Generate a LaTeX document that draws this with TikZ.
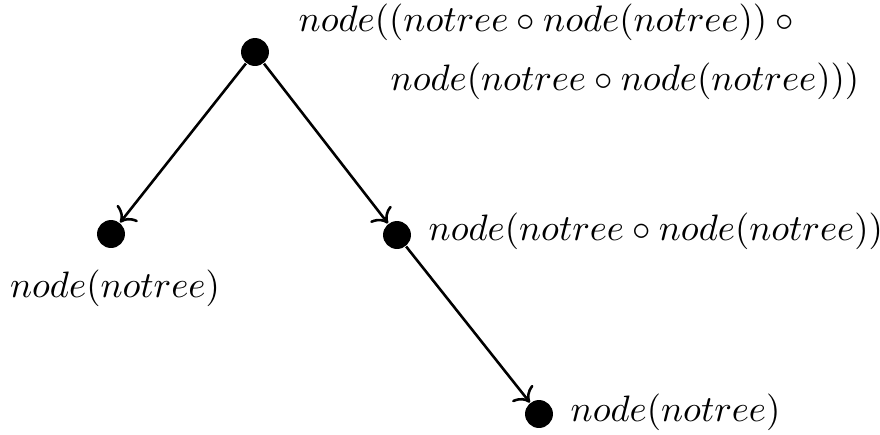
\documentclass[tikz,border=0pt]{standalone}
\usetikzlibrary{arrows.meta}
\begin{document}
\begin{tikzpicture}[x=0.272pt,y=-0.272pt,
  dot/.style={circle,fill=black,inner sep=0pt,minimum size=7.6pt},
  lbl/.style={inner sep=0pt},
  edge/.style={-{To[scale=1.1]},line width=0.7pt}]
\useasboundingbox (0,0) rectangle (880,434);
\node[dot] (r) at (255,52) {};
\node[dot] (a) at (111,234) {};
\node[dot] (b) at (397,235) {};
\node[dot] (c) at (539,414) {};
\node[lbl,anchor=west] (lr1) at (298,22) {$node((notree \circ node(notree)) \circ {}$};
\node[lbl,anchor=west] (lr2) at (390,81) {$node(notree \circ node(notree)))$};
\node[lbl,anchor=west] (lb) at (428,231) {$node(notree \circ node(notree))$};
\node[lbl] (la) at (115,288) {$node(notree)$};
\node[lbl,anchor=west] (lc) at (570,412) {$node(notree)$};
\draw[edge] (r) -- (a);
\draw[edge] (r) -- (b);
\draw[edge] (b) -- (c);
\end{tikzpicture}
\end{document}
